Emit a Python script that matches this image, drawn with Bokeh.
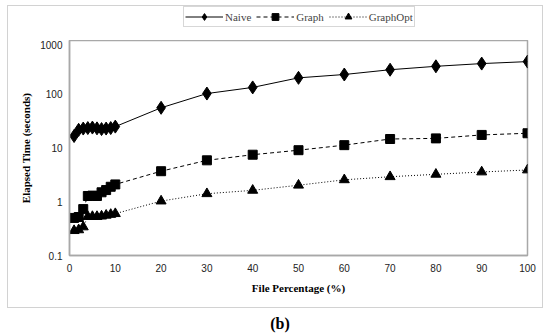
from bokeh.plotting import figure
from bokeh.models import (Legend, LegendItem, FixedTicker, Range1d, Div)
from bokeh.layouts import column
from bokeh.embed import file_html
from bokeh.resources import INLINE

# ---- data ----
file_pct = [1, 2, 3, 4, 5, 6, 7, 8, 9, 10, 20, 30, 40, 50, 60, 70, 80, 90, 100]
naive = [16.7, 21.8, 23.0, 23.5, 24.0, 23.2, 22.5, 23.0, 23.5, 25.0,
         56, 103, 134, 202, 233, 286, 331, 372, 405]
graph = [0.50, 0.52, 0.73, 1.28, 1.30, 1.28, 1.50, 1.65, 1.90, 2.10,
         3.7, 5.9, 7.5, 9.1, 11.3, 14.7, 15.1, 17.5, 18.8]
graph_opt = [0.29, 0.30, 0.34, 0.53, 0.53, 0.53, 0.54, 0.56, 0.58, 0.60,
             1.03, 1.41, 1.63, 2.03, 2.56, 2.92, 3.24, 3.58, 3.90]
series_names = ["Naive", "Graph", "GraphOpt"]
x_ticks = [0, 10, 20, 30, 40, 50, 60, 70, 80, 90, 100]
y_ticks = [0.1, 1, 10, 100, 1000]
y_tick_labels = ["0.1", "1", "10", "100", "1000"]

styles = [
    dict(dash="solid", marker="diamond", size=13),
    dict(dash="4 3", marker="square", size=9),
    dict(dash="1 2", marker="triangle", size=10),
]
all_series = [naive, graph, graph_opt]

# ---- main plot ----
p = figure(width=534, height=267, y_axis_type="log",
           x_range=Range1d(0, 100), y_range=Range1d(0.1, 1000),
           output_backend="svg", toolbar_location=None,
           min_border_left=61, min_border_right=15,
           min_border_top=0, min_border_bottom=52)
p.background_fill_color = "white"
p.border_fill_color = "white"
p.outline_line_color = "#a8a8a8"
p.outline_line_width = 1.5
p.xgrid.visible = False
p.ygrid.visible = False

for ax in (p.xaxis[0], p.yaxis[0]):
    ax.axis_line_color = "#a8a8a8"
    ax.axis_line_width = 1.5
    ax.major_tick_line_color = None
    ax.minor_tick_line_color = None
    ax.major_tick_out = 0
    ax.major_tick_in = 0
    ax.minor_tick_out = 0
    ax.minor_tick_in = 0
    ax.major_label_text_font = "Liberation Sans"
    ax.major_label_text_font_size = "10px"
    ax.major_label_text_color = "#222222"
    ax.axis_label_text_font = "Liberation Serif"
    ax.axis_label_text_font_style = "bold"
    ax.axis_label_text_font_size = "11px"
    ax.axis_label_text_color = "black"

p.xaxis.ticker = FixedTicker(ticks=x_ticks)
p.xaxis.major_label_standoff = 8
p.xaxis.axis_label_standoff = 7
p.xaxis.axis_label = "File Percentage (%)"

p.yaxis.ticker = FixedTicker(ticks=y_ticks)
p.yaxis.major_label_overrides = {t: s for t, s in zip(y_ticks, y_tick_labels)}
p.yaxis.major_label_standoff = 7
p.yaxis.axis_label_standoff = 5
p.yaxis.axis_label = "Elapsed Time (seconds)"

for ys, st in zip(all_series, styles):
    p.line(file_pct, ys, line_color="black", line_width=1, line_dash=st["dash"])
    p.scatter(file_pct, ys, marker=st["marker"], size=st["size"], color="black")

# ---- legend strip: its own small plot; the series sit outside its ranges ----
lp = figure(width=534, height=34, output_backend="svg", toolbar_location=None,
            min_border_left=0, min_border_right=0,
            min_border_top=0, min_border_bottom=0,
            x_axis_type=None, y_axis_type=None,
            x_range=Range1d(-2, -1), y_range=Range1d(-2, -1))
lp.outline_line_color = None
lp.xgrid.visible = False
lp.ygrid.visible = False
lp.background_fill_color = "white"
lp.border_fill_color = "white"

items = []
for name, ys, st in zip(series_names, all_series, styles):
    lr = lp.line(file_pct, ys, line_color="black", line_width=1, line_dash=st["dash"])
    sr = lp.scatter(file_pct, ys, marker=st["marker"], size=st["size"], color="black")
    items.append(LegendItem(label=name, renderers=[lr, sr]))

legend = Legend(items=items, orientation="horizontal", location=(114, 13))
legend.label_text_font = "Liberation Serif"
legend.label_text_font_size = "11px"
legend.label_standoff = 2
legend.label_height = 14
legend.glyph_width = 38
legend.glyph_height = 17
legend.spacing = 5
legend.padding = 1
legend.margin = 0
legend.border_line_color = "#b0b0b0"
legend.border_line_width = 1
legend.background_fill_alpha = 1
lp.add_layout(legend, "center")

boxed = column(lp, p, spacing=0,
               styles={"border": "1px solid #d2d2d2"})

caption = Div(text="<b>(b)</b>", width=536, height=26,
              styles={"font-family": "Liberation Serif", "font-size": "16px",
                      "text-align": "center", "width": "536px",
                      "padding-top": "0px", "color": "black"})

layout = column(boxed, caption, spacing=0)
layout.margin = (5, 0, 0, 7)
open("out.html", "w").write(file_html(layout, INLINE))
